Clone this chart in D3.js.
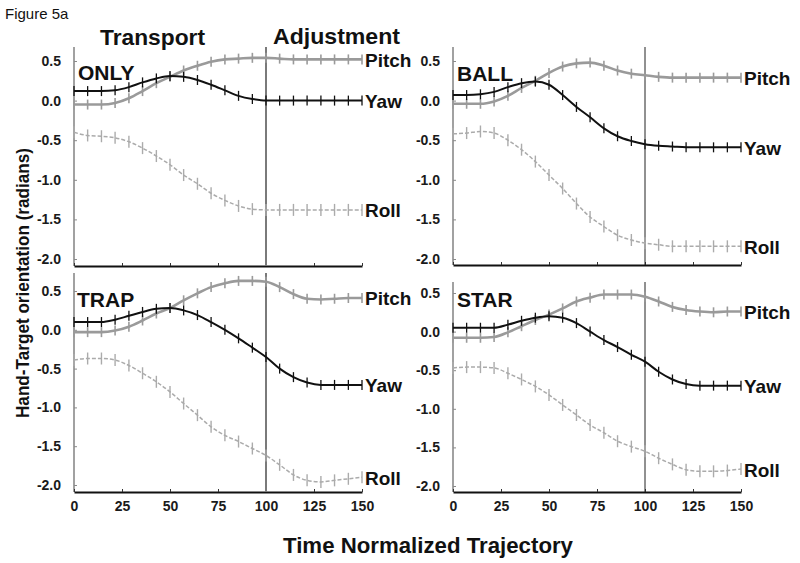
<!DOCTYPE html>
<html>
<head>
<meta charset="utf-8">
<script src="https://cdn.jsdelivr.net/npm/d3@7"></script>
<style>
  html, body { margin: 0; padding: 0; background: #fff; }
  svg { display: block; font-family: "Liberation Sans", Arial, sans-serif; }
</style>
</head>
<body>
<svg id="chart" width="800" height="563"></svg>
<script>
// ---------------- data ----------------
const xValues = [0, 7.1, 14.3, 21.4, 28.6, 35.7, 42.9, 50, 57.1, 64.3, 71.4, 78.6, 85.7, 92.9, 100, 107.1, 114.3, 121.4, 128.6, 135.7, 142.9, 150];

const panelNames = ["ONLY", "BALL", "TRAP", "STAR"];
const seriesNames = ["Pitch", "Yaw", "Roll"];

const onlyPitch = [-0.05, -0.05, -0.05, -0.03, 0.03, 0.12, 0.22, 0.30, 0.38, 0.44, 0.49, 0.52, 0.53, 0.54, 0.54, 0.53, 0.52, 0.52, 0.52, 0.52, 0.52, 0.52];
const onlyYaw   = [0.12, 0.12, 0.12, 0.13, 0.17, 0.23, 0.28, 0.31, 0.30, 0.26, 0.20, 0.13, 0.06, 0.02, 0.00, 0.00, 0.00, 0.00, 0.00, 0.00, 0.00, 0.00];
const onlyRoll  = [-0.40, -0.44, -0.45, -0.47, -0.52, -0.60, -0.70, -0.81, -0.94, -1.05, -1.17, -1.26, -1.33, -1.37, -1.38, -1.38, -1.38, -1.38, -1.38, -1.38, -1.38, -1.38];

const ballPitch = [-0.04, -0.04, -0.04, -0.01, 0.06, 0.16, 0.25, 0.35, 0.43, 0.47, 0.48, 0.44, 0.38, 0.34, 0.32, 0.30, 0.29, 0.29, 0.29, 0.29, 0.29, 0.29];
const ballYaw   = [0.07, 0.07, 0.08, 0.11, 0.17, 0.22, 0.24, 0.20, 0.07, -0.08, -0.21, -0.35, -0.45, -0.51, -0.55, -0.57, -0.58, -0.59, -0.59, -0.59, -0.59, -0.59];
const ballRoll  = [-0.42, -0.41, -0.39, -0.41, -0.50, -0.62, -0.77, -0.94, -1.11, -1.30, -1.47, -1.59, -1.70, -1.76, -1.80, -1.82, -1.84, -1.84, -1.84, -1.84, -1.84, -1.84];

const trapPitch = [-0.03, -0.03, -0.03, -0.01, 0.04, 0.12, 0.21, 0.28, 0.38, 0.47, 0.55, 0.60, 0.63, 0.63, 0.62, 0.55, 0.46, 0.40, 0.39, 0.40, 0.41, 0.41];
const trapYaw   = [0.10, 0.10, 0.10, 0.13, 0.18, 0.23, 0.27, 0.28, 0.25, 0.19, 0.10, 0.00, -0.11, -0.23, -0.35, -0.50, -0.61, -0.68, -0.71, -0.71, -0.71, -0.71];
const trapRoll  = [-0.39, -0.37, -0.37, -0.39, -0.46, -0.56, -0.67, -0.80, -0.95, -1.10, -1.25, -1.36, -1.44, -1.53, -1.62, -1.74, -1.87, -1.94, -1.96, -1.94, -1.92, -1.90];

const starPitch = [-0.08, -0.08, -0.08, -0.07, -0.01, 0.07, 0.15, 0.22, 0.30, 0.39, 0.44, 0.48, 0.48, 0.48, 0.45, 0.39, 0.32, 0.28, 0.26, 0.25, 0.26, 0.26];
const starYaw   = [0.05, 0.05, 0.05, 0.05, 0.09, 0.14, 0.18, 0.20, 0.18, 0.11, 0.00, -0.11, -0.20, -0.30, -0.39, -0.52, -0.62, -0.68, -0.70, -0.70, -0.70, -0.70];
const starRoll  = [-0.47, -0.46, -0.46, -0.47, -0.54, -0.62, -0.71, -0.82, -0.95, -1.08, -1.21, -1.31, -1.42, -1.49, -1.55, -1.64, -1.72, -1.79, -1.81, -1.81, -1.80, -1.78];

const yTickValues = [0.5, 0.0, -0.5, -1.0, -1.5, -2.0];
const yTickLabels = ["0.5", "0.0", "-0.5", "-1.0", "-1.5", "-2.0"];
const xTickValues = [0, 25, 50, 75, 100, 125, 150];
const xTickLabels = ["0", "25", "50", "75", "100", "125", "150"];
const phaseBoundary = 100;

const panelSeries = [
  [onlyPitch, onlyYaw, onlyRoll],
  [ballPitch, ballYaw, ballRoll],
  [trapPitch, trapYaw, trapRoll],
  [starPitch, starYaw, starRoll]
];

// ---------------- layout & style ----------------
const layout = [
  { x0: 74,  x1: 362, y05: 61,  yM2: 259, axisY: 266, topY: 47,  vline: { c: "#7a7a7a", w: 2 },   xLabels: false, name: [78, 80] },
  { x0: 453, x1: 741, y05: 61,  yM2: 259, axisY: 265, topY: 47,  vline: { c: "#222", w: 1 },      xLabels: false, name: [457, 81] },
  { x0: 74,  x1: 362, y05: 291, yM2: 485, axisY: 492, topY: 273, vline: { c: "#7a7a7a", w: 2 },   xLabels: true,  name: [77, 307] },
  { x0: 453, x1: 741, y05: 293, yM2: 486, axisY: 492, topY: 282, vline: { c: "#222", w: 1 },      xLabels: true,  name: [457, 307] }
];
const seriesStyle = [
  { stroke: "#9a9a9a", width: 2.6, dash: null,  bar: "#9a9a9a", barW: 1.6, barH: 5 },
  { stroke: "#111",    width: 2.0, dash: null,  bar: "#111",    barW: 1.3, barH: 5 },
  { stroke: "#ababab", width: 1.5, dash: "4,2", bar: "#ababab", barW: 1.4, barH: 6 }
];

const svg = d3.select("#chart");

svg.append("text").attr("x", 5).attr("y", 19)
  .attr("font-size", 15).attr("fill", "#111").text("Figure 5a");

svg.append("text").attr("x", 100).attr("y", 45)
  .attr("font-size", 22).attr("font-weight", "bold").attr("fill", "#111")
  .attr("textLength", 105).attr("lengthAdjust", "spacingAndGlyphs").text("Transport");
svg.append("text").attr("x", 273).attr("y", 44)
  .attr("font-size", 22).attr("font-weight", "bold").attr("fill", "#111")
  .attr("textLength", 127).attr("lengthAdjust", "spacingAndGlyphs").text("Adjustment");

svg.append("text")
  .attr("transform", "translate(29,283) rotate(-90)")
  .attr("text-anchor", "middle")
  .attr("font-size", 19).attr("font-weight", "bold").attr("fill", "#111")
  .attr("textLength", 270).attr("lengthAdjust", "spacingAndGlyphs")
  .text("Hand-Target orientation (radians)");

svg.append("text").attr("x", 428).attr("y", 553)
  .attr("text-anchor", "middle")
  .attr("font-size", 22).attr("font-weight", "bold").attr("fill", "#111")
  .attr("textLength", 290).attr("lengthAdjust", "spacingAndGlyphs")
  .text("Time Normalized Trajectory");

panelSeries.forEach((series, pi) => {
  const L = layout[pi];
  const x = d3.scaleLinear().domain([0, 150]).range([L.x0, L.x1]);
  const y = d3.scaleLinear().domain([0.5, -2.0]).range([L.y05, L.yM2]);
  const g = svg.append("g");

  // y axis line
  g.append("line").attr("x1", L.x0).attr("x2", L.x0).attr("y1", L.topY).attr("y2", L.axisY)
    .attr("stroke", "#8a8a8a").attr("stroke-width", 1.6);
  // y axis ticks/labels
  const yAxis = d3.axisLeft(y).tickValues(yTickValues)
    .tickFormat((d, i) => yTickLabels[i]).tickSizeInner(-3).tickSizeOuter(0).tickPadding(13);
  const ya = g.append("g").attr("transform", `translate(${L.x0},0)`).call(yAxis);
  ya.select(".domain").remove();
  ya.selectAll(".tick line").attr("stroke", "#8a8a8a");
  ya.selectAll(".tick text").attr("font-size", 14).attr("font-weight", "bold")
    .attr("fill", "#1a1a1a").attr("font-family", "'Liberation Sans', Arial, sans-serif");

  // x axis
  const xAxis = d3.axisBottom(x).tickValues(xTickValues)
    .tickFormat((d, i) => L.xLabels ? xTickLabels[i] : "")
    .tickSizeInner(-3).tickSizeOuter(0).tickPadding(9);
  const xa = g.append("g").attr("transform", `translate(0,${L.axisY})`).call(xAxis);
  xa.select(".domain").attr("stroke", "#111").attr("stroke-width", 1.8);
  xa.selectAll(".tick line").attr("stroke", "#333");
  xa.selectAll(".tick text").attr("font-size", 14).attr("font-weight", "bold")
    .attr("fill", "#1a1a1a").attr("font-family", "'Liberation Sans', Arial, sans-serif");

  // phase boundary
  g.append("line").attr("x1", x(phaseBoundary)).attr("x2", x(phaseBoundary))
    .attr("y1", L.topY).attr("y2", L.axisY)
    .attr("stroke", L.vline.c).attr("stroke-width", L.vline.w);

  // panel name
  g.append("text").attr("x", L.name[0]).attr("y", L.name[1])
    .attr("font-size", 21).attr("font-weight", "bold").attr("fill", "#111")
    .text(panelNames[pi]);

  const line = d3.line().x((d, i) => x(xValues[i])).y(d => y(d)).curve(d3.curveMonotoneX);

  // draw roll first, then pitch, then yaw on top
  [2, 0, 1].forEach(si => {
    const vals = series[si];
    const st = seriesStyle[si];
    g.append("path").datum(vals).attr("d", line)
      .attr("fill", "none").attr("stroke", st.stroke).attr("stroke-width", st.width)
      .attr("stroke-dasharray", st.dash);
    g.selectAll(null).data(vals).enter().append("line")
      .attr("x1", (d, i) => x(xValues[i])).attr("x2", (d, i) => x(xValues[i]))
      .attr("y1", d => y(d) - st.barH).attr("y2", d => y(d) + st.barH)
      .attr("stroke", st.bar).attr("stroke-width", st.barW);
  });

  // series labels
  series.forEach((vals, si) => {
    g.append("text").attr("x", L.x1 + 3).attr("y", y(vals[vals.length - 1]) + 1)
      .attr("dominant-baseline", "central")
      .attr("font-size", 19).attr("font-weight", "bold").attr("fill", "#111")
      .text(seriesNames[si]);
  });
});
</script>
</body>
</html>
